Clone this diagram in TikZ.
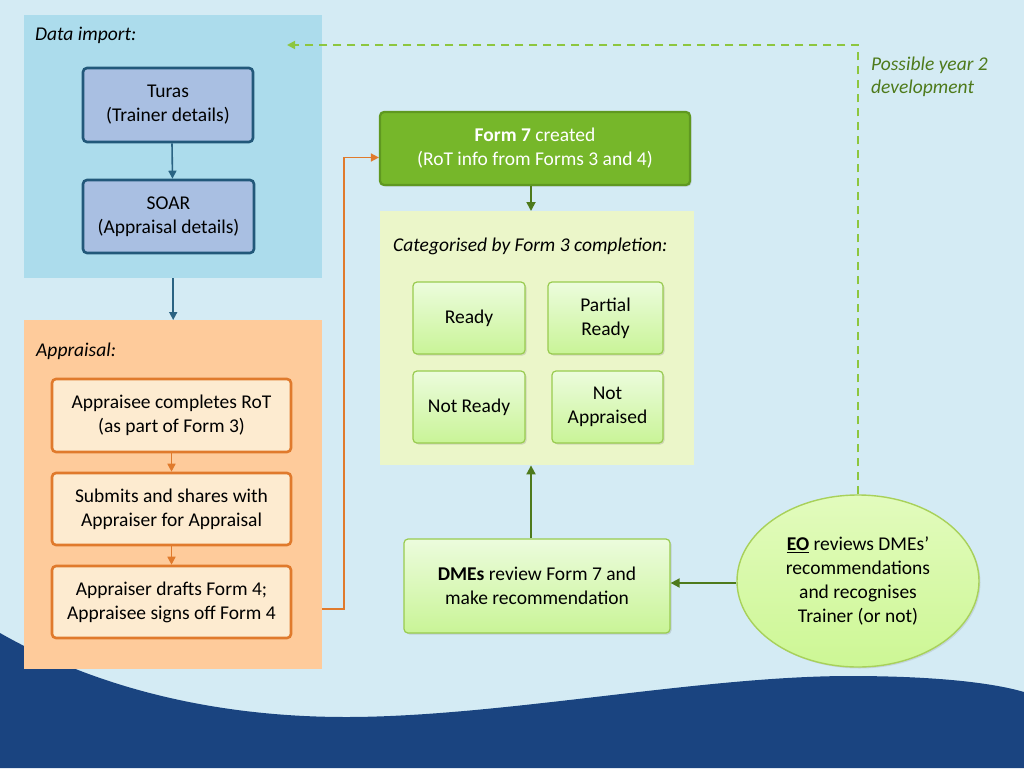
\documentclass[tikz,border=0pt]{standalone}
\usepackage{fontspec}
\setmainfont{Carlito}
\usetikzlibrary{arrows.meta,shadows,shapes.geometric}
\definecolor{bgC}{HTML}{D4EBF4}
\definecolor{waveC}{HTML}{1A4480}
\definecolor{dataC}{HTML}{ACDCEC}
\definecolor{tealF}{HTML}{A9BFE2}
\definecolor{tealL}{HTML}{22587A}
\definecolor{tealA}{HTML}{2A6383}
\definecolor{apC}{HTML}{FECB9B}
\definecolor{obF}{HTML}{FDEBD0}
\definecolor{obL}{HTML}{E07A2C}
\definecolor{f7F}{HTML}{76B72A}
\definecolor{f7L}{HTML}{5F9820}
\definecolor{catC}{HTML}{EBF6C9}
\definecolor{gTop}{HTML}{ECFCDD}
\definecolor{gBot}{HTML}{C9F497}
\definecolor{gL}{HTML}{99CB4F}
\definecolor{eTop}{HTML}{E2FBBD}
\definecolor{eBot}{HTML}{CDF795}
\definecolor{eL}{HTML}{A8D15A}
\definecolor{gA}{HTML}{4E7A1B}
\definecolor{dashC}{HTML}{8DC63F}
\begin{document}
\begin{tikzpicture}[x=1pt,y=-1pt,
  every node/.style={font=\fontsize{19.5}{24}\selectfont, align=center, inner sep=2pt},
  panel/.style={draw=none, anchor=north west},
  lbl/.style={anchor=base west, font=\fontsize{19.5}{24}\selectfont\itshape},
  low/.style={execute at begin node={\rule{0pt}{19pt}}},
  tealbox/.style={draw=tealL, fill=tealF, line width=2.6pt, rounded corners=4pt, low},
  obox/.style={draw=obL, fill=obF, line width=2.6pt, rounded corners=4pt, minimum width=239, minimum height=72, low},
  gbox/.style={draw=gL, line width=1.2pt, rounded corners=4pt, top color=gTop, bottom color=gBot,
     drop shadow={opacity=0.25, shadow xshift=1.5pt, shadow yshift=-1.5pt}},
  tarr/.style={draw=tealA, line width=1.6pt, -{Triangle[length=8pt,width=8pt]}},
  oarr/.style={draw=obL, line width=1.6pt, -{Triangle[length=8pt,width=8pt]}},
  garr/.style={draw=gA, line width=1.8pt, -{Triangle[length=9pt,width=9pt]}},
  darr/.style={draw=dashC, line width=1.8pt, dash pattern=on 8pt off 6pt, -{Triangle[length=8pt,width=8pt]}}
]
\useasboundingbox (0,0) rectangle (1024,768);
\fill[bgC] (0,0) rectangle (1024,768);
\fill[waveC] (0,633) .. controls (100,690) and (220,717) .. (346,717)
  .. controls (500,717) and (700,676) .. (850,676)
  .. controls (930,676) and (990,682) .. (1024,692) -- (1024,768) -- (0,768) -- cycle;

% Data import panel
\node[panel, fill=dataC, minimum width=298, minimum height=263] (datap) at (24,15) {};
\node[lbl] (dlab) at (33,41) {Data import:};
\node[tealbox, minimum width=170, minimum height=74] (turas) at (168,105) {Turas\\(Trainer details)};
\node[tealbox, minimum width=171, minimum height=73] (soar) at (168.5,216.5) {SOAR\\(Appraisal details)};

% Appraisal panel
\node[panel, fill=apC, minimum width=298, minimum height=349] (apanel) at (24,320) {};
\node[lbl] (alab) at (34,356) {Appraisal:};
\node[obox, minimum height=73] (b1) at (171.5,415.5) {Appraisee completes RoT\\(as part of Form 3)};
\node[obox] (b2) at (171.5,509) {Submits and shares with\\Appraiser for Appraisal};
\node[obox] (b3) at (171.5,602) {Appraiser drafts Form 4;\\Appraisee signs off Form 4};

% Form 7
\node[draw=f7L, fill=f7F, line width=2.2pt, rounded corners=4pt, minimum width=310, minimum height=73, low,
  text=white, drop shadow={opacity=0.25, shadow xshift=1.5pt, shadow yshift=-1.5pt}] (form7) at (535,148.5)
  {\textbf{Form 7} created\\(RoT info from Forms 3 and 4)};

% Categorised panel
\node[panel, fill=catC, minimum width=314, minimum height=254] (catp) at (380,211) {};
\node[lbl] (clab) at (391,251) {Categorised by Form 3 completion:};
\node[gbox, minimum width=112, minimum height=72] (ready) at (469,318) {Ready};
\node[gbox, minimum width=115, minimum height=72] (partial) at (605.5,318) {Partial\\Ready};
\node[gbox, minimum width=112, minimum height=72] (notready) at (469,407) {Not Ready};
\node[gbox, minimum width=111, minimum height=72] (notapp) at (607.5,407) {Not\\Appraised};

% DMEs
\node[gbox, minimum width=266, minimum height=94] (dmes) at (537,586) {\textbf{DMEs} review Form 7 and\\make recommendation};

% EO
\node[ellipse, draw=eL, line width=1.4pt, top color=eTop, bottom color=eBot, minimum width=242, minimum height=172,
  inner sep=0pt, drop shadow={opacity=0.2, shadow xshift=1.5pt, shadow yshift=-1.5pt}] (eo) at (858,581)
  {\underline{\textbf{EO}} reviews DMEs’\\recommendations\\and recognises\\Trainer (or not)};

% note
\node[anchor=north west, align=left, text=gA, font=\fontsize{19.5}{23}\selectfont\itshape] (note) at (869,55)
  {Possible year 2\\development};

% connectors
\draw[tarr] ([xshift=4pt]turas.south) -- ([xshift=4pt]soar.north);
\draw[tarr] (datap.south) -- (apanel.north);
\draw[oarr] (b1.south) -- (b2.north);
\draw[oarr] (b2.south) -- (b3.north);
\coordinate (oturn) at (344,609);
\draw[oarr] (apanel.east |- oturn) -- (oturn) |- ([yshift=-9pt]form7.west);
\draw[garr] ([xshift=-4pt]form7.south) -- ([xshift=-4pt]form7.south |- catp.north);
\draw[garr] ([xshift=-6pt]dmes.north) -- ([xshift=-6pt]dmes.north |- catp.south);
\draw[garr] ([yshift=-2pt]eo.west) -- ([yshift=-2pt]eo.west -| dmes.east);
\coordinate (dend) at (287,45);
\draw[darr] (eo.north) |- (dend);
\end{tikzpicture}
\end{document}
